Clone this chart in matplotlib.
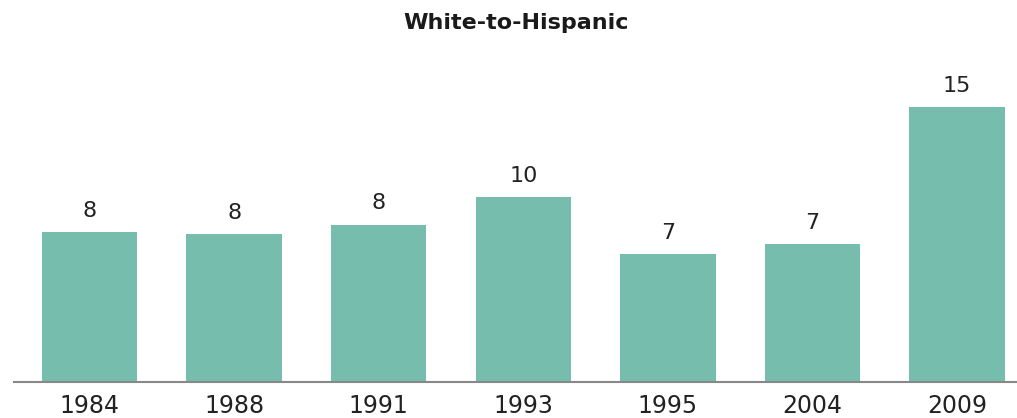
import numpy as np
import matplotlib
matplotlib.use('Agg')
import matplotlib.pyplot as plt

years = ['1984', '1988', '1991', '1993', '1995', '2004', '2009']
values = [7.9, 7.8, 8.3, 9.75, 6.75, 7.26, 14.5]
labels = ['8', '8', '8', '10', '7', '7', '15']

fig = plt.figure(figsize=(10.17, 4.18), dpi=100)
ax = fig.add_axes([14 / 1017, 36.3 / 418, 1 - 14 / 1017, 321.7 / 418])

x = np.arange(len(years))
bars = ax.bar(x, values, width=0.66, color='#76bdad', zorder=2)

for b, lab in zip(bars, labels):
    ax.annotate(lab, (b.get_x() + b.get_width() / 2, b.get_height()),
                xytext=(0, 11), textcoords='offset points',
                ha='center', va='baseline', fontsize=16, color='#222222')

ax.set_xlim(-0.522, 6.414)
ax.set_ylim(0, 17.0)
ax.set_xticks(x)
ax.set_xticklabels(years, fontsize=17, color='#222222')
ax.tick_params(axis='x', length=0, pad=9)
ax.set_yticks([])
for s in ['top', 'right', 'left']:
    ax.spines[s].set_visible(False)
ax.spines['bottom'].set_color('#888888')
ax.spines['bottom'].set_linewidth(1.5)

fig.text(0.507, 1 - 23 / 418, 'White-to-Hispanic', ha='center', va='center',
         fontsize=16, fontweight='bold', color='#1a1a1a')

fig.savefig('out.png', dpi=100)
